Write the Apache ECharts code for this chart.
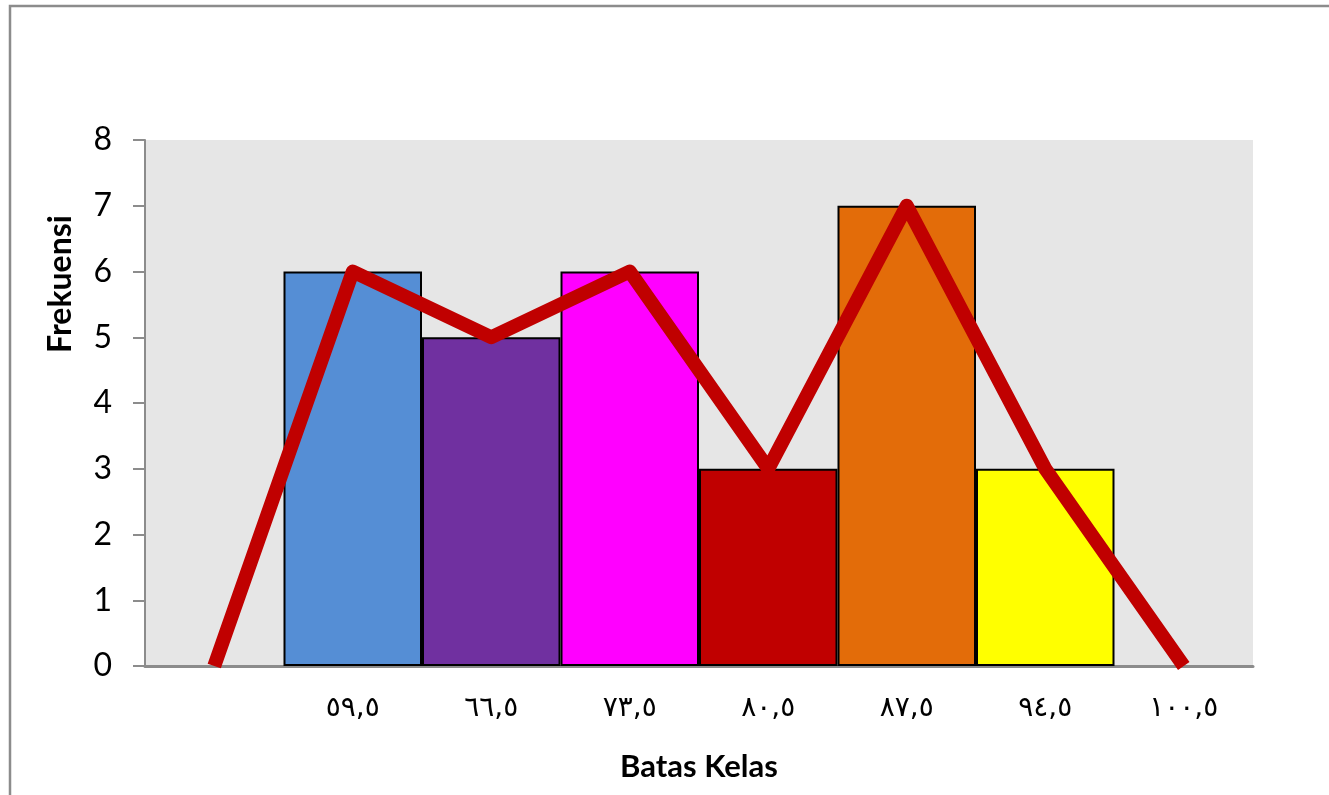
<!DOCTYPE html>
<html>
<head>
<meta charset="utf-8">
<script src="https://cdn.jsdelivr.net/npm/echarts@6/dist/echarts.min.js"></script>
<style>html,body{margin:0;padding:0;background:#fff;}#c{width:1329px;height:795px;}</style>
</head>
<body>
<div id="c"></div>
<script>
var categories = ['', '٥٩,٥', '٦٦,٥', '٧٣,٥', '٨٠,٥', '٨٧,٥', '٩٤,٥', '١٠٠,٥'];
var barValues = [null, 6, 5, 6, 3, 7, 3, null];
var polygonValues = [0, 6, 5, 6, 3, 7, 3, 0];
var barColors = ['#558ED5', '#558ED5', '#7030A0', '#FF00FF', '#C00000', '#E36C09', '#FFFF00', '#FFFF00'];
var yTicks = [0, 1, 2, 3, 4, 5, 6, 7, 8];

var chart = echarts.init(document.getElementById('c'));
chart.setOption({
  animation: false,
  backgroundColor: '#fff',
  textStyle: { fontFamily: 'Lato' },
  graphic: [
    { type: 'rect', shape: { x: 10, y: 6, width: 1340, height: 800 }, style: { fill: 'none', stroke: '#8c8c8c', lineWidth: 2.5 }, silent: true },
    { type: 'text', x: 61, y: 284, rotation: Math.PI / 2, style: { text: 'Frekuensi', font: 'bold 32px Lato', fill: '#000', align: 'center', verticalAlign: 'middle' } }
  ],
  grid: { left: 145, right: 76, top: 140, bottom: 129, show: true, backgroundColor: '#E6E6E6', borderWidth: 0 },
  xAxis: {
    type: 'category',
    data: categories,
    boundaryGap: true,
    axisLine: { show: true, lineStyle: { color: '#8c8c8c', width: 3 } },
    axisTick: { show: false },
    axisLabel: { color: '#000', fontSize: 28, fontFamily: 'DejaVu Sans', margin: 29, interval: 0 },
    name: 'Batas Kelas',
    nameLocation: 'middle',
    nameGap: 85,
    nameTextStyle: { color: '#000', fontSize: 31, fontWeight: 'bold', fontFamily: 'Lato' }
  },
  yAxis: {
    type: 'value',
    min: yTicks[0],
    max: yTicks[yTicks.length - 1],
    interval: 1,
    axisLine: { show: true, lineStyle: { color: '#8c8c8c', width: 2 } },
    axisTick: { show: true, length: 12, lineStyle: { color: '#8c8c8c', width: 2 } },
    splitLine: { show: false },
    axisLabel: { color: '#000', fontSize: 32, margin: 33, fontFamily: 'Lato' }
  },
  series: [
    {
      type: 'bar',
      data: barValues.map(function (v, i) { return { value: v, itemStyle: { color: barColors[i] } }; }),
      barWidth: '100%',
      barGap: '-100%',
      itemStyle: { borderColor: '#000', borderWidth: 2 },
      z: 2
    },
    {
      type: 'line',
      data: polygonValues,
      symbol: 'none',
      lineStyle: { color: '#C00000', width: 14, join: 'round', cap: 'butt' },
      clip: true,
      z: 3
    }
  ]
});
</script>
</body>
</html>
